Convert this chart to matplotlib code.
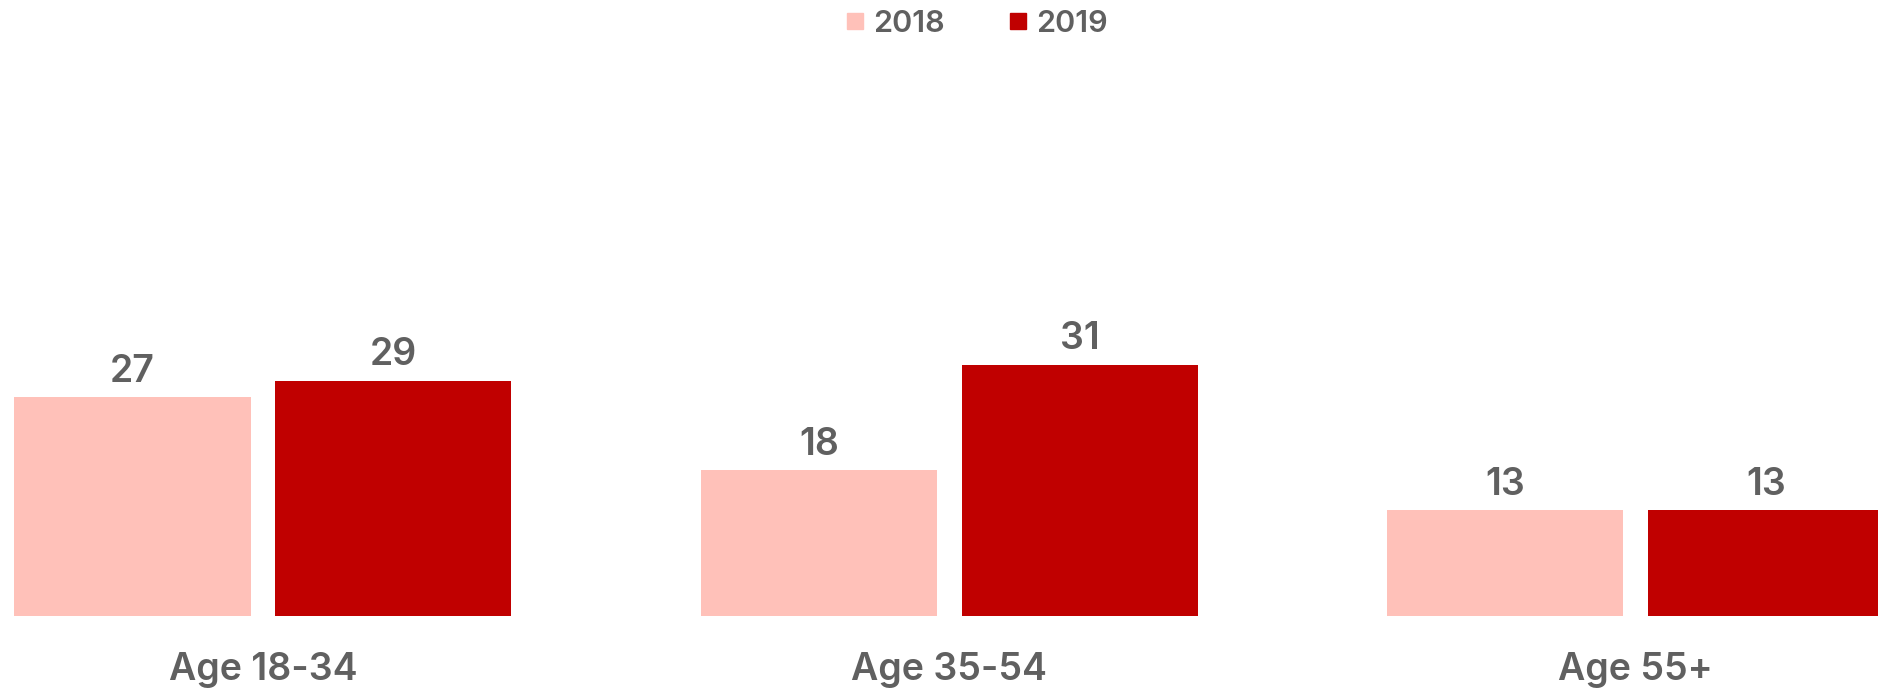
import matplotlib.pyplot as plt
from matplotlib.lines import Line2D
import numpy as np

# age groups and yearly values
categories = ['Age 18-34', 'Age 35-54', 'Age 55+']
years = ['2018', '2019']
values_2018 = [27, 18, 13]
values_2019 = [29, 31, 13]

colors = ['#FFC1B9', '#C00000']
text_color = '#606060'

plt.rcParams['font.family'] = ['Inter', 'DejaVu Sans']

fig = plt.figure(figsize=(18.78, 6.90), dpi=100)
ax = fig.add_axes([0, 74.4 / 690, 1, 615.6 / 690])

x = np.arange(len(categories))
width = 0.344
offset = 0.19

for vals, off, col in zip([values_2018, values_2019], [-offset, offset], colors):
    bars = ax.bar(x + off, vals, width, color=col)
    for b, v in zip(bars, vals):
        ax.annotate(str(v), (b.get_x() + b.get_width() / 2, v),
                    xytext=(0, 11), textcoords='offset points',
                    ha='center', va='baseline', fontsize=27,
                    fontweight='semibold', color=text_color)

ax.set_xlim(-0.383, 2.353)
ax.set_ylim(0, 76)
ax.set_xticks(x)
ax.set_xticklabels(categories, fontsize=27, fontweight='semibold', color=text_color)
ax.tick_params(axis='x', length=0, pad=26)
ax.set_yticks([])
for s in ax.spines.values():
    s.set_visible(False)

handles = [Line2D([], [], marker='s', linestyle='none', markersize=12,
                  markerfacecolor=c, markeredgecolor=c) for c in colors]
fig.legend(handles, years, loc='center', bbox_to_anchor=(0.520, 0.965),
           ncol=2, frameon=False, handlelength=0.6, handletextpad=0.3,
           columnspacing=2.1, prop={'size': 22, 'weight': 'semibold'},
           labelcolor=text_color)

fig.savefig('out.png', dpi=100)
